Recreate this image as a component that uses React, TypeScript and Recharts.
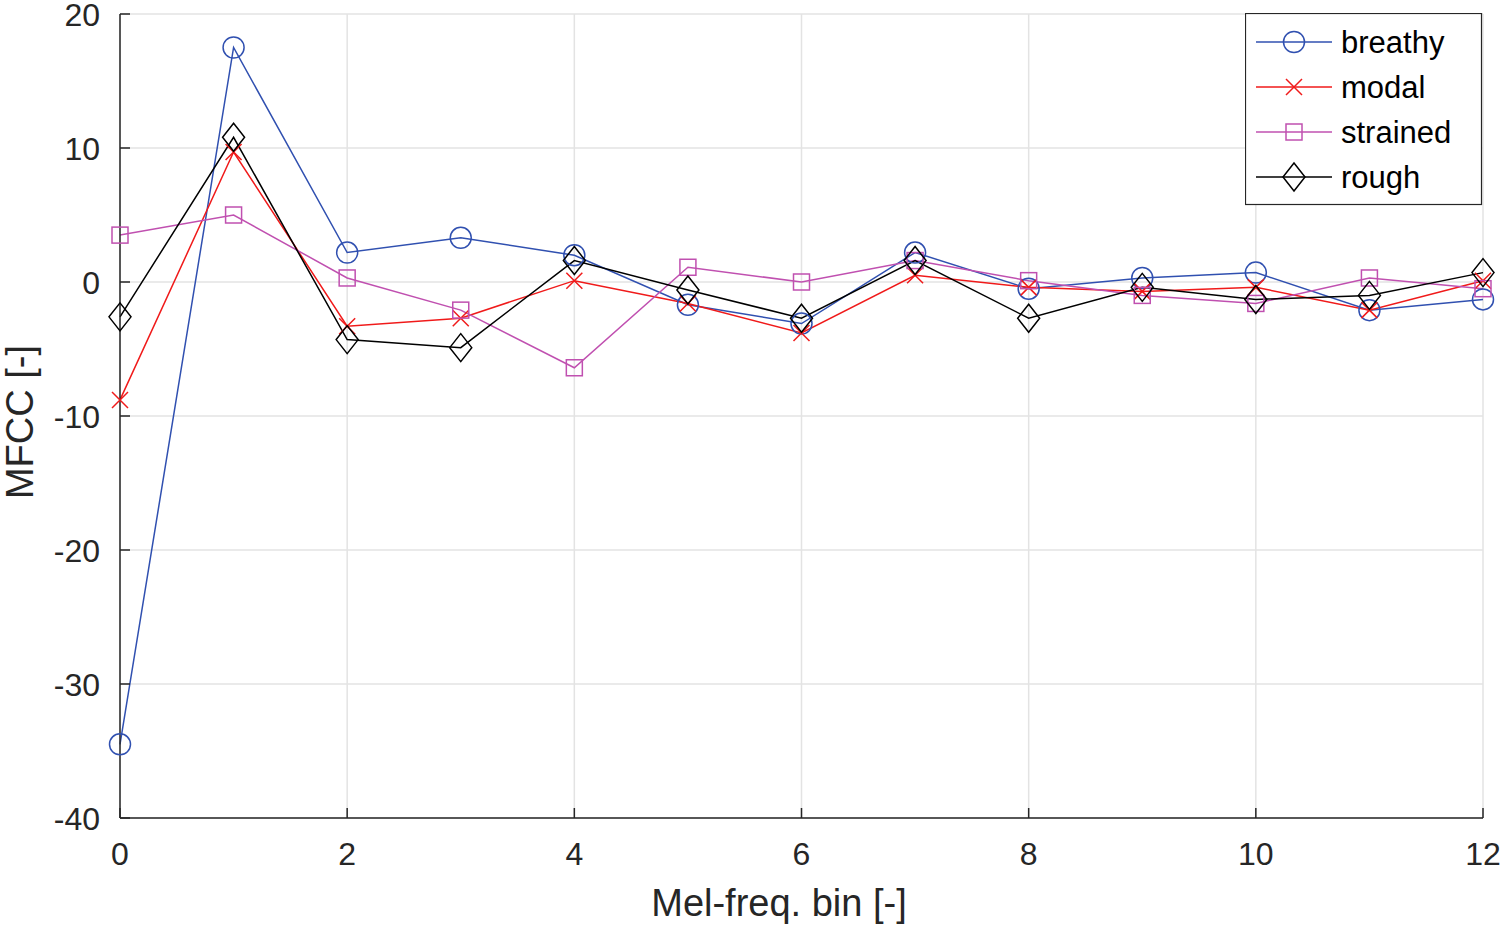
import React from 'react';
import {
  LineChart,
  Line,
  XAxis,
  YAxis,
  CartesianGrid,
  Legend,
  Customized,
} from 'recharts';

const bins = [0, 1, 2, 3, 4, 5, 6, 7, 8, 9, 10, 11, 12];
const breathy = [-34.5, 17.5, 2.2, 3.3, 2.0, -1.7, -3.1, 2.2, -0.5, 0.3, 0.7, -2.1, -1.3];
const modal = [-8.8, 9.7, -3.3, -2.7, 0.1, -1.6, -3.8, 0.5, -0.4, -0.7, -0.4, -2.1, 0.1];
const strained = [3.5, 5.0, 0.3, -2.1, -6.4, 1.1, 0.0, 1.6, 0.1, -1.0, -1.6, 0.3, -0.5];
const rough = [-2.6, 10.8, -4.3, -4.9, 1.6, -0.6, -2.7, 1.6, -2.7, -0.4, -1.3, -1.0, 0.7];

const xTicks = [0, 2, 4, 6, 8, 10, 12];
const yTicks = [-40, -30, -20, -10, 0, 10, 20];

const seriesNames = ['breathy', 'modal', 'strained', 'rough'];
const colors: Record<string, string> = {
  breathy: '#3050b0',
  modal: '#f01a1a',
  strained: '#c050b0',
  rough: '#000000',
};

const data = bins.map((b, i) => ({
  bin: b,
  breathy: breathy[i],
  modal: modal[i],
  strained: strained[i],
  rough: rough[i],
}));

const AXIS = '#262626';
const FONT = '"Liberation Sans", Arial, sans-serif';
// plot box edges (left axis x, bottom axis y)
const PLOT_LEFT = 120;
const PLOT_BOTTOM = 818;

const Marker = ({ kind, cx, cy }: { kind: string; cx: number; cy: number }) => {
  const c = colors[kind];
  if (kind === 'breathy') return <circle cx={cx} cy={cy} r={10.5} fill="none" stroke={c} strokeWidth={1.5} />;
  if (kind === 'modal')
    return (
      <path d={`M${cx - 8},${cy - 8}L${cx + 8},${cy + 8}M${cx - 8},${cy + 8}L${cx + 8},${cy - 8}`} stroke={c} strokeWidth={1.5} fill="none" />
    );
  if (kind === 'strained') return <rect x={cx - 8} y={cy - 8} width={16} height={16} fill="none" stroke={c} strokeWidth={1.5} />;
  return (
    <path d={`M${cx},${cy - 14}L${cx + 11},${cy}L${cx},${cy + 14}L${cx - 11},${cy}Z`} fill="none" stroke={c} strokeWidth={1.5} />
  );
};

const makeDot = (kind: string) => (props: any) => {
  const { cx, cy, index } = props;
  if (cx == null || cy == null) return <g key={index} />;
  return <Marker key={index} kind={kind} cx={cx} cy={cy} />;
};

const XTick = (props: any) => {
  const { x, payload } = props;
  return (
    <g>
      <line x1={x} y1={PLOT_BOTTOM} x2={x} y2={PLOT_BOTTOM - 10} stroke={AXIS} strokeWidth={1.5} />
      <text x={x} y={PLOT_BOTTOM + 47} textAnchor="middle" fontSize={32} fill={AXIS} fontFamily={FONT}>
        {payload.value}
      </text>
    </g>
  );
};

const YTick = (props: any) => {
  const { y, payload } = props;
  return (
    <g>
      <line x1={PLOT_LEFT} y1={y} x2={PLOT_LEFT + 10} y2={y} stroke={AXIS} strokeWidth={1.5} />
      <text x={PLOT_LEFT - 20} y={y + 11.5} textAnchor="end" fontSize={32} fill={AXIS} fontFamily={FONT}>
        {payload.value}
      </text>
    </g>
  );
};

const AxisTitles = () => (
  <g fontFamily={FONT} fontSize={38} fill={AXIS}>
    <text x={779} y={916} textAnchor="middle">Mel-freq. bin [-]</text>
    <text x={0} y={0} textAnchor="middle" transform="translate(33,422) rotate(-90)">MFCC [-]</text>
  </g>
);

const LegendBox = () => (
  <svg width={238} height={193} style={{ display: 'block' }}>
    <rect x={0.5} y={0.5} width={236} height={191} fill="#fff" stroke={AXIS} strokeWidth={1.2} />
    {seriesNames.map((s, i) => {
      const cy = 29 + i * 45;
      return (
        <g key={s}>
          <line x1={11} y1={cy} x2={87} y2={cy} stroke={colors[s]} strokeWidth={1.5} />
          <Marker kind={s} cx={49} cy={cy} />
          <text x={96} y={cy + 11} fontSize={31} fill="#000" fontFamily={FONT}>
            {s}
          </text>
        </g>
      );
    })}
  </svg>
);

export default function App() {
  return (
    <div style={{ position: 'absolute', left: 0, top: 0, width: 1500, height: 925, background: '#fff' }}>
      <LineChart width={1500} height={925} data={data} margin={{ top: 14, right: 17, left: 0, bottom: 0 }}>
        <CartesianGrid stroke="#e3e3e3" strokeWidth={1.5} />
        <XAxis
          dataKey="bin"
          type="number"
          domain={[0, 12]}
          ticks={xTicks}
          height={107}
          tickSize={0}
          tickMargin={0}
          tickLine={false}
          axisLine={{ stroke: AXIS, strokeWidth: 1.5 }}
          tick={<XTick />}
          interval={0}
        />
        <YAxis
          type="number"
          domain={[-40, 20]}
          ticks={yTicks}
          width={120}
          tickSize={0}
          tickMargin={0}
          tickLine={false}
          axisLine={{ stroke: AXIS, strokeWidth: 1.5 }}
          tick={<YTick />}
          interval={0}
        />
        {seriesNames.map((s) => (
          <Line
            key={s}
            type="linear"
            dataKey={s}
            stroke={colors[s]}
            strokeWidth={1.5}
            dot={makeDot(s)}
            activeDot={false}
            isAnimationActive={false}
          />
        ))}
        <Legend
          layout="vertical"
          align="center"
          verticalAlign="middle"
          content={() => <LegendBox />}
          wrapperStyle={{ position: 'absolute', top: 13, left: 1245, width: 238, height: 193 }}
        />
        <Customized component={AxisTitles} />
      </LineChart>
    </div>
  );
}
